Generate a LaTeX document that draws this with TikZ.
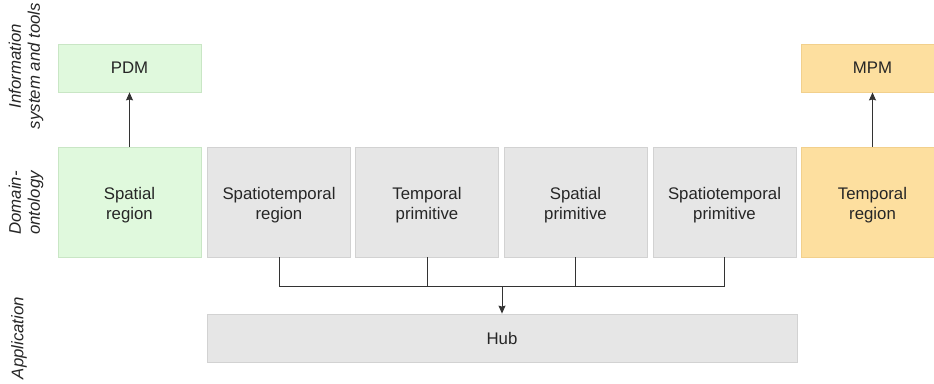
\documentclass[tikz,border=0pt]{standalone}
\usepackage{fontspec}
\setmainfont{Liberation Sans}
\usetikzlibrary{arrows.meta}
\definecolor{gfill}{HTML}{E0F9DD}
\definecolor{gdraw}{HTML}{C9E6C5}
\definecolor{ofill}{HTML}{FDDF9F}
\definecolor{odraw}{HTML}{F2D08C}
\definecolor{kfill}{HTML}{E6E6E6}
\definecolor{kdraw}{HTML}{D2D2D2}
\definecolor{lin}{HTML}{333333}
\newcommand{\topgap}{\rule{0pt}{20pt}}
\tikzset{
  box/.style={rectangle, draw, line width=0.8pt, inner sep=0pt, align=center,
    font=\fontsize{16.8}{20}\selectfont, text=black!85},
  smallbox/.style={box, minimum width=143pt, minimum height=48pt},
  tallbox/.style={box, minimum width=143pt, minimum height=110pt},
  green/.style={fill=gfill, draw=gdraw},
  orange/.style={fill=ofill, draw=odraw},
  grey/.style={fill=kfill, draw=kdraw},
  rowlabel/.style={rotate=90, align=center, inner sep=0pt,
    font=\fontsize{16.8}{19}\selectfont\itshape, text=black!85},
  conn/.style={draw=lin, line width=1pt},
  arr/.style={conn, -{Stealth[length=8pt,width=7pt,inset=1pt]}}
}
\begin{document}
\begin{tikzpicture}[x=1pt,y=-1pt]
\useasboundingbox (0,0) rectangle (934,383);
\clip (0,0) rectangle (934,383);
% row labels
\node[rowlabel] (lab1) at (26,66) {Information\\system and tools};
\node[rowlabel] (lab2) at (26,203) {Domain-\\ontology};
\node[rowlabel] (lab3) at (19,338) {Application};
% top row
\node[smallbox, green] (pdm) at (129.5,68) {PDM};
\node[smallbox, orange] (mpm) at (872.5,68) {MPM};
% middle row
\node[tallbox, green] (sreg) at (129.5,202) {\topgap Spatial\\region\strut};
\node[tallbox, grey] (streg) at (279,202) {\topgap Spatiotemporal\\region\strut};
\node[tallbox, grey] (tprim) at (427,202) {\topgap Temporal\\primitive\strut};
\node[tallbox, grey] (sprim) at (575.5,202) {\topgap Spatial\\primitive\strut};
\node[tallbox, grey] (stprim) at (724.5,202) {\topgap Spatiotemporal\\primitive\strut};
\node[tallbox, orange] (treg) at (872.5,202) {\topgap Temporal\\region\strut};
% bottom row
\node[box, grey, minimum width=590pt, minimum height=48pt] (hub) at (502,338) {Hub};
% connectors
\coordinate (jl) at (streg.south |- 0,286);
\coordinate (jr) at (stprim.south |- 0,286);
\coordinate (jm) at (hub.north |- 0,286);
\draw[conn] (streg.south) -- (jl) -- (jr) -- (stprim.south);
\draw[conn] (tprim.south) -- (tprim.south |- jl);
\draw[conn] (sprim.south) -- (sprim.south |- jl);
\draw[arr] (jm) -- (hub.north);
\draw[arr] (sreg.north) -- (pdm.south);
\draw[arr] (treg.north) -- (mpm.south);
\end{tikzpicture}
\end{document}
